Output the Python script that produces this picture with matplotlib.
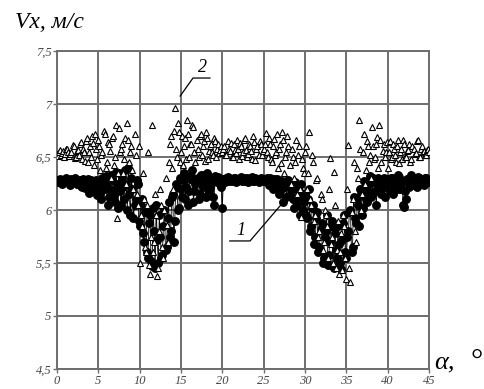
import numpy as np
import matplotlib
matplotlib.use("Agg")
import matplotlib.pyplot as plt

# angle alpha, degrees: two interleaved measurement grids
alpha_a = [round(0.25 * i, 3) for i in range(181)]
alpha_b = [round(0.125 + 0.25 * i, 3) for i in range(180)]

# series 1 (filled circles), grid a
v1a = [
    6.28,6.27,6.28,6.26,6.27,6.28,6.27,6.29,6.26,6.27,6.25,6.28,6.22,6.27,6.24,6.29,6.20,6.26,6.18,6.28,
    6.23,6.15,6.30,6.20,6.26,6.12,6.33,6.18,6.08,6.25,6.35,6.05,6.22,6.38,6.00,6.15,6.30,5.92,6.10,6.25,
    5.85,6.10,5.70,6.00,5.55,5.95,5.47,5.80,6.05,5.50,5.75,5.58,6.00,5.65,6.08,5.80,6.15,5.90,6.22,6.02,
    6.20,6.28,6.10,6.30,6.18,6.32,6.08,6.25,6.30,6.15,6.27,6.33,6.12,6.28,6.22,6.30,6.05,6.27,6.31,6.25,
    6.02,6.28,6.30,6.27,6.29,6.28,6.30,6.27,6.29,6.31,6.28,6.27,6.30,6.28,6.29,6.27,6.30,6.28,6.29,6.27,
    6.29,6.28,6.27,6.30,6.26,6.29,6.22,6.28,6.18,6.27,6.25,6.12,6.28,6.20,6.10,6.26,6.05,6.18,6.25,6.00,
    6.15,5.92,6.20,5.85,6.05,5.75,5.98,5.65,5.88,5.55,5.80,5.48,5.70,5.90,5.45,5.62,5.85,5.50,5.72,5.95,
    5.55,5.80,6.00,5.65,5.92,6.10,5.85,6.15,6.02,6.22,6.08,6.25,6.12,6.30,6.18,6.24,6.28,6.15,6.30,6.22,
    6.26,6.18,6.30,6.22,6.28,6.33,6.20,6.27,6.03,6.10,6.29,6.25,6.31,6.27,6.22,6.30,6.28,6.26,6.30,6.27,6.28,
]
# series 1, grid b
v1b = [
    6.26,6.29,6.25,6.28,6.30,6.26,6.24,6.28,6.30,6.25,6.27,6.23,6.29,6.21,6.26,6.16,6.28,6.22,6.25,6.14,
    6.27,6.10,6.24,6.32,6.05,6.20,6.28,6.14,6.36,6.02,6.18,6.30,6.10,6.25,6.40,5.95,6.20,6.05,6.28,5.90,
    6.05,5.78,5.98,5.60,5.88,5.52,6.02,5.45,5.72,5.95,5.55,5.85,5.62,5.92,5.75,6.12,5.70,6.25,6.00,6.30,
    6.12,6.35,6.22,6.05,6.29,6.38,6.18,6.26,6.10,6.33,6.22,6.28,6.35,6.18,6.27,6.12,6.32,6.26,6.29,6.22,
    6.29,6.26,6.31,6.28,6.27,6.30,6.26,6.29,6.28,6.27,6.30,6.29,6.26,6.28,6.31,6.27,6.29,6.26,6.30,6.28,
    6.27,6.30,6.24,6.28,6.20,6.26,6.29,6.15,6.25,6.08,6.22,6.27,6.14,6.24,6.02,6.20,6.12,5.95,6.15,6.08,
    5.95,6.10,5.80,6.02,5.68,5.92,5.60,5.82,5.50,5.75,5.95,5.58,5.85,5.47,5.78,5.55,5.68,5.44,5.88,5.60,
    5.75,5.98,5.60,6.12,5.88,6.05,6.20,5.95,6.27,6.10,6.18,6.32,6.15,6.26,6.05,6.30,6.20,6.27,6.12,6.29,
    6.22,6.30,6.15,6.27,6.20,6.31,6.25,6.05,6.18,6.29,6.22,6.33,6.24,6.28,6.31,6.25,6.29,6.24,6.30,6.26,
]

# series 2 (open triangles), grid a
v2a = [
    6.53,6.55,6.52,6.56,6.53,6.58,6.51,6.55,6.60,6.50,6.57,6.62,6.48,6.55,6.65,6.45,6.60,6.70,6.42,6.58,
    6.66,6.38,6.55,6.72,6.45,6.62,6.30,6.70,6.50,5.92,6.77,6.58,6.35,6.68,6.82,6.45,6.60,6.20,6.52,6.05,
    5.50,5.85,6.10,5.60,6.55,5.40,6.80,5.70,5.95,5.45,6.20,5.65,6.00,5.86,6.45,6.70,6.20,6.96,6.50,6.74,
    6.55,6.42,6.68,6.85,6.50,6.62,6.78,6.45,6.58,6.70,6.52,6.65,6.74,6.48,6.60,6.55,6.68,6.50,6.62,6.57,
    6.55,6.60,6.52,6.58,6.63,6.50,6.57,6.66,6.48,6.60,6.55,6.68,6.50,6.62,6.56,6.70,6.47,6.60,6.65,6.52,
    6.58,6.73,6.50,6.62,6.45,6.67,6.55,6.40,6.62,6.74,6.35,6.55,6.60,6.25,6.50,6.45,6.15,6.60,5.93,6.40,
    6.55,6.20,6.74,6.05,6.45,5.95,6.30,5.80,6.10,5.70,5.95,5.55,6.49,5.75,6.36,5.45,5.90,5.60,5.43,5.85,
    5.35,6.61,5.32,6.10,5.80,6.40,6.85,6.00,6.55,6.25,6.65,6.45,6.30,6.60,6.50,6.69,6.80,6.45,6.62,6.55,
    6.40,6.65,6.50,6.58,6.45,6.66,6.55,6.48,6.62,6.50,6.57,6.45,6.60,6.53,6.65,6.50,6.58,6.55,6.52,6.57,6.55,
]
# series 2, grid b
v2b = [
    6.51,6.57,6.54,6.50,6.58,6.55,6.53,6.61,6.49,6.56,6.52,6.64,6.58,6.46,6.68,6.55,6.50,6.63,6.72,6.48,
    6.60,6.52,6.75,6.40,6.64,6.56,6.68,6.42,6.80,6.35,6.55,6.62,6.48,6.25,6.66,6.55,6.38,6.72,6.15,6.60,
    5.95,6.35,5.65,6.05,5.48,5.75,5.60,6.15,5.38,5.80,6.05,5.55,6.30,5.70,6.62,6.40,6.75,6.58,6.82,6.45,
    6.70,6.60,6.48,6.72,6.62,6.80,6.55,6.66,6.50,6.72,6.60,6.46,6.68,6.56,6.62,6.52,6.65,6.58,6.54,6.60,
    6.58,6.52,6.65,6.56,6.50,6.62,6.54,6.58,6.63,6.51,6.66,6.57,6.53,6.60,6.48,6.64,6.58,6.52,6.62,6.56,
    6.62,6.55,6.68,6.48,6.60,6.52,6.72,6.58,6.44,6.66,6.50,6.70,6.42,6.58,6.30,6.66,6.52,6.20,6.48,6.35,
    6.60,6.35,6.10,6.52,5.90,6.28,5.75,6.15,5.62,6.00,5.85,6.20,5.68,5.50,6.05,5.62,5.40,5.78,5.95,5.55,
    6.20,5.45,5.98,6.45,5.70,6.30,6.58,6.15,6.72,6.38,6.60,6.52,6.78,6.48,6.62,6.40,6.66,6.56,6.50,6.64,
    6.55,6.48,6.62,6.52,6.60,6.44,6.58,6.66,6.50,6.56,6.62,6.48,6.58,6.54,6.66,6.50,6.60,6.56,6.52,6.58,
]

x_ticks = [0, 5, 10, 15, 20, 25, 30, 35, 40, 45]
y_ticks = [4.5, 5, 5.5, 6, 6.5, 7, 7.5]
y_tick_labels = ["4,5", "5", "5,5", "6", "6,5", "7", "7,5"]

serif = ["Liberation Serif", "DejaVu Serif"]
gcol = "#6e6e6e"

def merge(xa, ya, xb, yb):
    xs = list(xa[:len(ya)]) + list(xb[:len(yb)])
    ys = list(ya) + list(yb[:len(xb)])
    ys = ys[:len(xs)]
    order = np.argsort(xs, kind="stable")
    return np.asarray(xs)[order], np.asarray(ys)[order]

x1, y1 = merge(alpha_a, v1a, alpha_b, v1b)
x2, y2 = merge(alpha_a, v2a, alpha_b, v2b)

fig = plt.figure(figsize=(4.84, 3.89), dpi=100)
ax = fig.add_axes([57/484, 20/389, 372/484, 318/389])

ax.plot(x1, y1, color="black", lw=0.6, marker="o", ms=5.4,
        mfc="black", mec="black", zorder=3)
ax.plot(x2, y2, marker="^", ms=5.0, mfc="white", mec="black", mew=0.8,
        linestyle="none", zorder=4)

ax.set_xlim(0, 45)
ax.set_ylim(4.5, 7.5)
ax.set_xticks(x_ticks)
ax.set_yticks(y_ticks)
ax.set_xticklabels([str(t) for t in x_ticks], fontfamily=serif, fontstyle="italic",
                   fontsize=9, color="#444444")
ax.set_yticklabels(y_tick_labels, fontfamily=serif, fontstyle="italic",
                   fontsize=9, color="#444444")
ax.grid(True, color=gcol, lw=1.4)
ax.set_axisbelow(True)
for s in ax.spines.values():
    s.set_color(gcol)
    s.set_linewidth(1.4)
ax.tick_params(length=3, width=1.0, color=gcol, pad=1)

# annotations
ax.plot([14.9, 16.45, 18.5], [7.075, 7.245, 7.245], color="black", lw=0.9, zorder=5)
ax.text(17.6, 7.26, "2", fontfamily=serif, fontstyle="italic", fontsize=13,
        ha="center", va="bottom", zorder=6)
ax.plot([27.7, 23.35, 20.9], [6.104, 5.708, 5.708], color="black", lw=0.9, zorder=5)
ax.text(22.3, 5.73, "1", fontfamily=serif, fontstyle="italic", fontsize=13,
        ha="center", va="bottom", zorder=6)

fig.text(15/484, 1 - 22/389, "Vx, м/с", fontfamily=serif, fontstyle="italic",
         fontsize=17, ha="left", va="center")
fig.text(434/484, 1 - 362/389, "α,", fontfamily=serif, fontstyle="italic",
         fontsize=19, ha="left", va="center")
fig.text(477/484, 1 - 362/389, "°", fontfamily=serif,
         fontsize=22, ha="center", va="center")

fig.savefig("out.png", dpi=100)
